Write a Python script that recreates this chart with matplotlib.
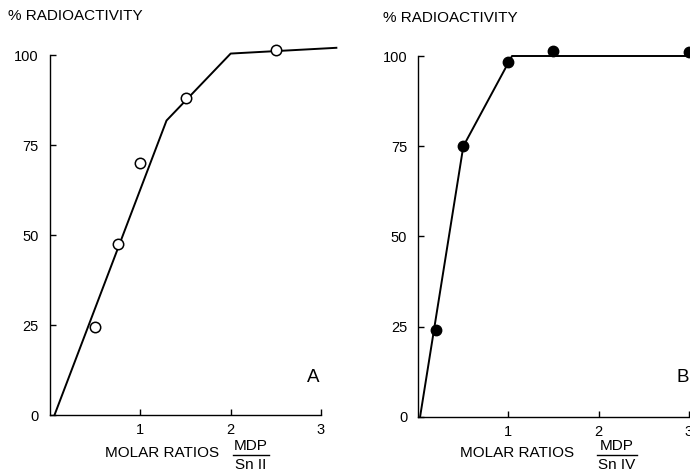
"""
Radioactivity vs. MDP/Sn molar ratio, two panels (A: Sn II, B: Sn IV).
"""

import matplotlib
matplotlib.use('Agg')
import matplotlib.pyplot as plt
from matplotlib.lines import Line2D

plt.rcParams['font.family'] = ['Liberation Sans', 'DejaVu Sans']

# Panel A (Sn II) - measured points and fitted line
a_x = [0.5, 0.75, 1.0, 1.5, 2.5]
a_y = [24.5, 47.5, 70, 88, 101.5]
a_line_x = [0.05, 1.29, 2.0, 3.17]
a_line_y = [0, 81.8, 100.4, 102]

# Panel B (Sn IV) - measured points and fitted line
b_x = [0.2, 0.5, 1.0, 1.5, 3.0]
b_y = [24, 75, 98.3, 101.4, 101]
b_line_x = [0.02, 0.5, 1.04, 3.0]
b_line_y = [0, 75, 100, 100]

y_ticks = [0, 25, 50, 75, 100]
x_ticks = [1, 2, 3]

W, H = 690, 473


def fx(px):
    return px / W


def fy(py):
    return 1 - py / H


fig = plt.figure(figsize=(W / 100, H / 100), dpi=100)

ax_a = fig.add_axes([fx(50), fy(415), (321 - 50) / W, (415 - 55) / H])
ax_b = fig.add_axes([fx(418.3), fy(416.7), (688.6 - 418.3) / W, (416.7 - 56) / H])


def style_axes(ax):
    ax.set_xlim(0, 3)
    ax.set_ylim(0, 100)
    for side in ['top', 'right']:
        ax.spines[side].set_visible(False)
    for side in ['left', 'bottom']:
        ax.spines[side].set_linewidth(1.0)
    ax.set_xticks(x_ticks)
    ax.set_yticks(y_ticks)
    ax.tick_params(direction='in', length=4, width=1, labelsize=10.5,
                   colors='black')
    ax.tick_params(axis='x', pad=6)
    ax.tick_params(axis='y', pad=8)
    ax.patch.set_alpha(0)


# panel A
style_axes(ax_a)
ax_a.plot(a_line_x, a_line_y, color='black', linewidth=1.4, clip_on=False)
ax_a.plot(a_x, a_y, 'o', markersize=7.5, markerfacecolor='white',
          markeredgecolor='black', markeredgewidth=1.1, clip_on=False, zorder=5)

# panel B
style_axes(ax_b)
ax_b.plot(b_line_x, b_line_y, color='black', linewidth=1.4, clip_on=False)
ax_b.plot(b_x, b_y, 'o', markersize=7.5, color='black', clip_on=False, zorder=5)

# titles
fig.text(fx(8), fy(16), '% RADIOACTIVITY', fontsize=11, va='center', ha='left')
fig.text(fx(383), fy(18), '% RADIOACTIVITY', fontsize=11, va='center', ha='left')

# panel letters
fig.text(fx(313), fy(377), 'A', fontsize=13.5, ha='center', va='center')
fig.text(fx(683), fy(377), 'B', fontsize=13.5, ha='center', va='center')

# x labels with fractions
fig.text(fx(105), fy(453), 'MOLAR RATIOS', fontsize=11, ha='left', va='center')
fig.text(fx(251), fy(446), 'MDP', fontsize=11, ha='center', va='center')
fig.text(fx(251), fy(465), 'Sn II', fontsize=11, ha='center', va='center')
fig.add_artist(Line2D([fx(233), fx(269)], [fy(455), fy(455)],
                      color='black', linewidth=1.0))

fig.text(fx(460), fy(453), 'MOLAR RATIOS', fontsize=11, ha='left', va='center')
fig.text(fx(617), fy(446), 'MDP', fontsize=11, ha='center', va='center')
fig.text(fx(617), fy(465), 'Sn IV', fontsize=11, ha='center', va='center')
fig.add_artist(Line2D([fx(597), fx(637)], [fy(455), fy(455)],
                      color='black', linewidth=1.0))

plt.savefig('out.png', dpi=100)
